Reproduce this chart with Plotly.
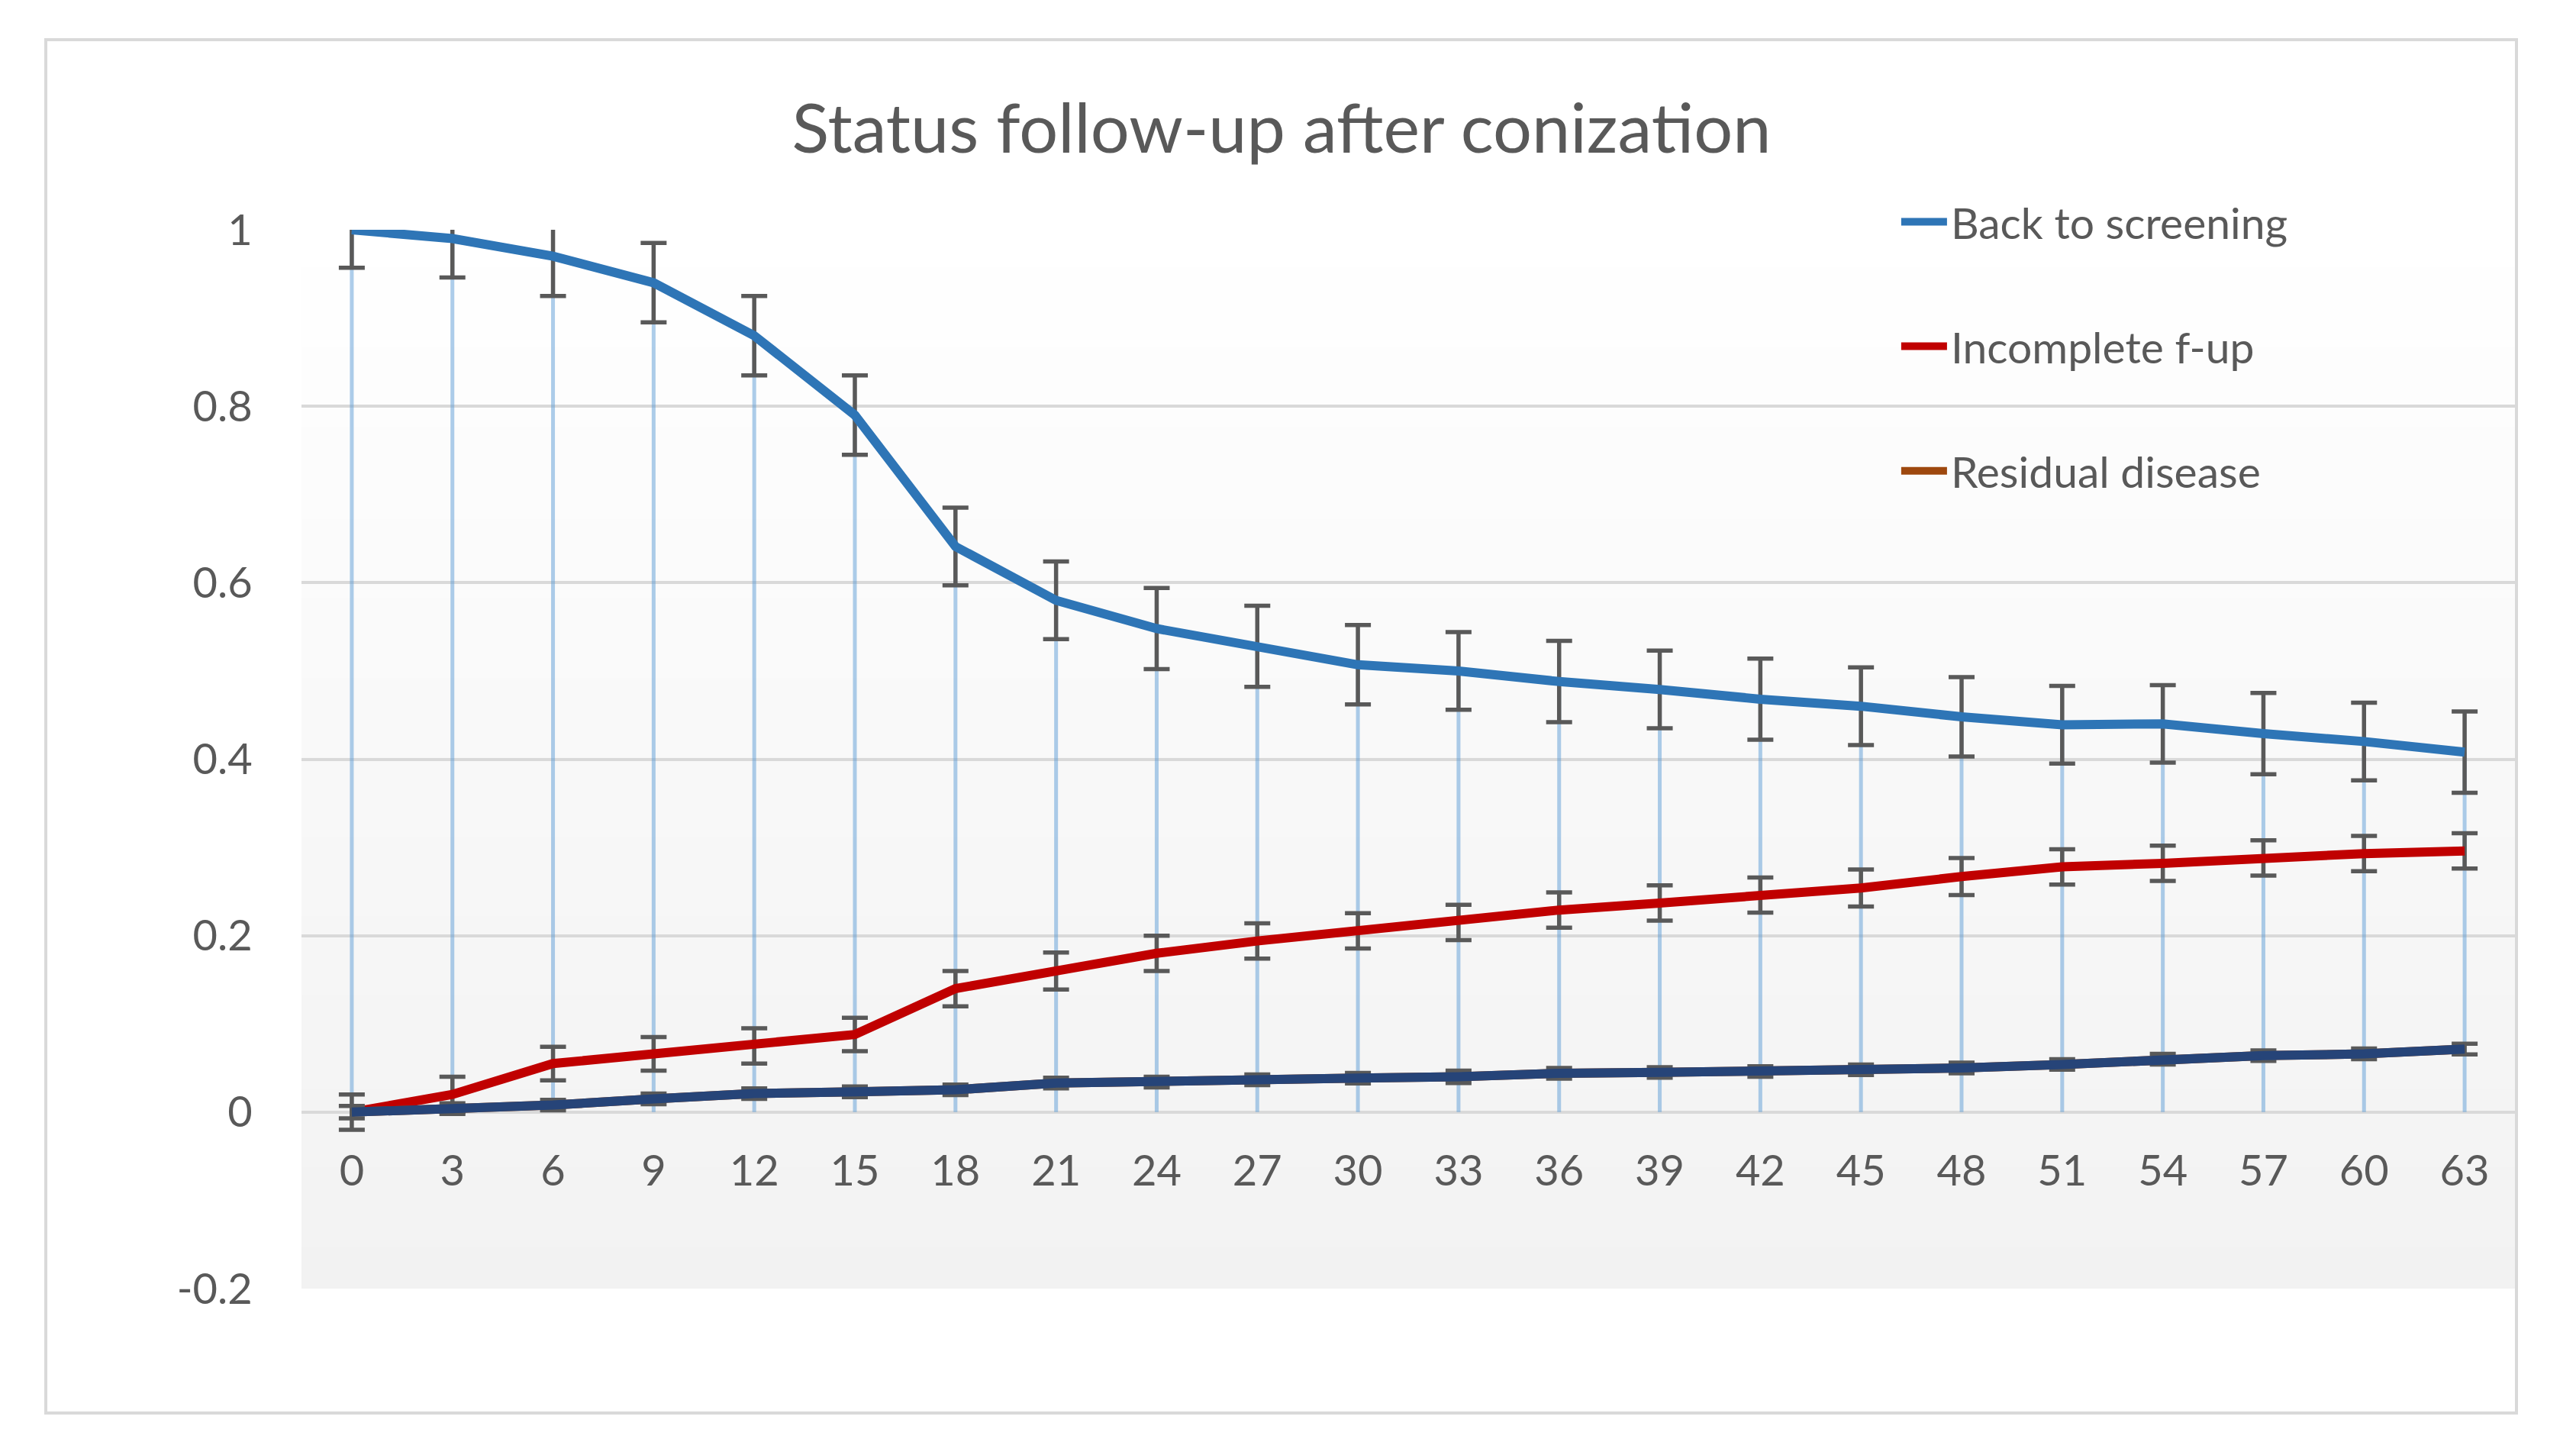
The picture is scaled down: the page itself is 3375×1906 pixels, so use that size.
import plotly.graph_objects as go

# ---------------- data ----------------
months = [0, 3, 6, 9, 12, 15, 18, 21, 24, 27, 30, 33, 36, 39, 42, 45, 48, 51, 54, 57, 60, 63]
back_to_screening = [1.0, 0.99, 0.97, 0.94, 0.88, 0.79, 0.641, 0.58, 0.548, 0.528, 0.507, 0.50,
                     0.488, 0.479, 0.468, 0.46, 0.448, 0.439, 0.44, 0.429, 0.42, 0.408]
back_err = [0.043, 0.044, 0.045, 0.045, 0.045, 0.045, 0.044, 0.044, 0.046, 0.046, 0.045, 0.044,
            0.046, 0.044, 0.046, 0.044, 0.045, 0.044, 0.044, 0.046, 0.044, 0.046]
incomplete_fup = [0.0, 0.02, 0.055, 0.066, 0.075, 0.088, 0.14, 0.16, 0.18, 0.194, 0.2055, 0.215,
                  0.229, 0.237, 0.246, 0.254, 0.267, 0.278, 0.282, 0.288, 0.293, 0.296]
incomplete_err = [0.02, 0.02, 0.019, 0.019, 0.02, 0.019, 0.02, 0.021, 0.02, 0.02, 0.02, 0.02,
                  0.02, 0.02, 0.02, 0.021, 0.021, 0.02, 0.02, 0.02, 0.02, 0.02]
residual_disease = [0.0, 0.004, 0.008, 0.015, 0.021, 0.023, 0.0253, 0.033, 0.034, 0.0366, 0.0385, 0.040,
                    0.044, 0.045, 0.046, 0.048, 0.050, 0.054, 0.060, 0.064, 0.066, 0.0715]
residual_err = [0.007, 0.006, 0.006, 0.006, 0.006, 0.006, 0.006, 0.006, 0.006, 0.006, 0.006, 0.007,
                0.006, 0.006, 0.006, 0.006, 0.006, 0.006, 0.006, 0.006, 0.006, 0.006]
y_ticks = [-0.2, 0, 0.2, 0.4, 0.6, 0.8, 1]
y_tick_labels = ["-0.2", "0", "0.2", "0.4", "0.6", "0.8", "1"]
title_text = "Status follow-up after conization"

# ---------------- styling ----------------
OFF = 8  # page body margin
W, H = 3375 - 2 * OFF, 1906 - 2 * OFF
PX0, PX1, PY0, PY1 = 395 - OFF, 3295 - OFF, 301 - OFF, 1688 - OFF
L, R, T, B = PX0, W - PX1, PY0, H - PY1
FONT = "Lato"
TXT = "#595959"
GRID = "#d9d9d9"

fig = go.Figure()

# drop lines from the top series to the axis
dx, dy = [], []
for m, v in zip(months, back_to_screening):
    dx += [m, m, None]
    dy += [v, 0, None]
fig.add_trace(go.Scatter(x=dx, y=dy, mode="lines", showlegend=False, hoverinfo="skip",
                         line=dict(color="rgba(91,155,213,0.5)", width=5)))

err_style = dict(type="data", color="#595959", thickness=5.5, width=17)

fig.add_trace(go.Scatter(x=months, y=back_to_screening, mode="lines", name="Back to screening",
                         legendgroup="a", line=dict(color="#2E75B6", width=12),
                         error_y=dict(array=back_err, **err_style)))
fig.add_trace(go.Scatter(x=months, y=incomplete_fup, mode="lines", name="Incomplete f-up",
                         legendgroup="b", line=dict(color="#C00000", width=12),
                         error_y=dict(array=incomplete_err, **err_style)))
# legend entry (brown) underneath the dark navy line drawn on top
fig.add_trace(go.Scatter(x=months, y=residual_disease, mode="lines", name="Residual disease",
                         legendgroup="c", line=dict(color="#9E480E", width=12)))
fig.add_trace(go.Scatter(x=months, y=residual_disease, mode="lines", name="Residual disease",
                         legendgroup="c", showlegend=False, line=dict(color="#264478", width=12),
                         error_y=dict(array=residual_err, **err_style)))

# gradient plot background (white -> #f2f2f2)
shapes = []
n = 80
for i in range(n):
    t = (i + 0.5) / n
    c = round(255 - (255 - 242) * t)
    shapes.append(dict(type="rect", xref="paper", yref="paper", x0=0, x1=1,
                       y0=1 - (i + 1) / n, y1=1 - i / n + 0.002, layer="below",
                       fillcolor=f"rgb({c},{c},{c})", line=dict(width=0)))
# chart border
pw, ph = PX1 - PX0, PY1 - PY0
shapes.append(dict(type="rect", xref="paper", yref="paper",
                   x0=(60 - OFF - PX0) / pw, x1=(3297 - OFF - PX0) / pw,
                   y0=(PY1 - (1851 - OFF)) / ph, y1=(PY1 - (52 - OFF)) / ph,
                   layer="below", line=dict(color=GRID, width=4), fillcolor="rgba(0,0,0,0)"))

fig.update_layout(
    width=W, height=H,
    margin=dict(l=L, r=R, t=T, b=B, pad=0),
    paper_bgcolor="white", plot_bgcolor="white",
    shapes=shapes,
    title=dict(text=title_text, x=(1679 - OFF) / W, xref="container", xanchor="center",
               y=1 - (168 - OFF) / H, yref="container", yanchor="middle",
               font=dict(family=FONT, size=90, color=TXT)),
    font=dict(family=FONT, color=TXT),
    legend=dict(x=0.721, xanchor="left", y=1.039, yanchor="top", bgcolor="rgba(0,0,0,0)",
                font=dict(family=FONT, size=57, color=TXT), traceorder="grouped",
                tracegroupgap=86, itemwidth=60),
    xaxis=dict(range=[-1.5, 64.5], tickmode="array", tickvals=months,
               ticktext=[str(m) for m in months], showgrid=False, zeroline=False,
               showline=False, anchor="free", position=0.2 / 1.2,
               ticks="outside", ticklen=28, tickcolor="rgba(0,0,0,0)",
               tickfont=dict(family=FONT, size=56, color=TXT)),
    yaxis=dict(range=[-0.2, 1], tickmode="array", tickvals=y_ticks, ticktext=y_tick_labels,
               showgrid=True, gridcolor=GRID, gridwidth=4, zeroline=False, showline=False,
               ticks="outside", ticklen=52, tickcolor="rgba(0,0,0,0)",
               tickfont=dict(family=FONT, size=56, color=TXT)),
)

fig.write_html("out.html")
